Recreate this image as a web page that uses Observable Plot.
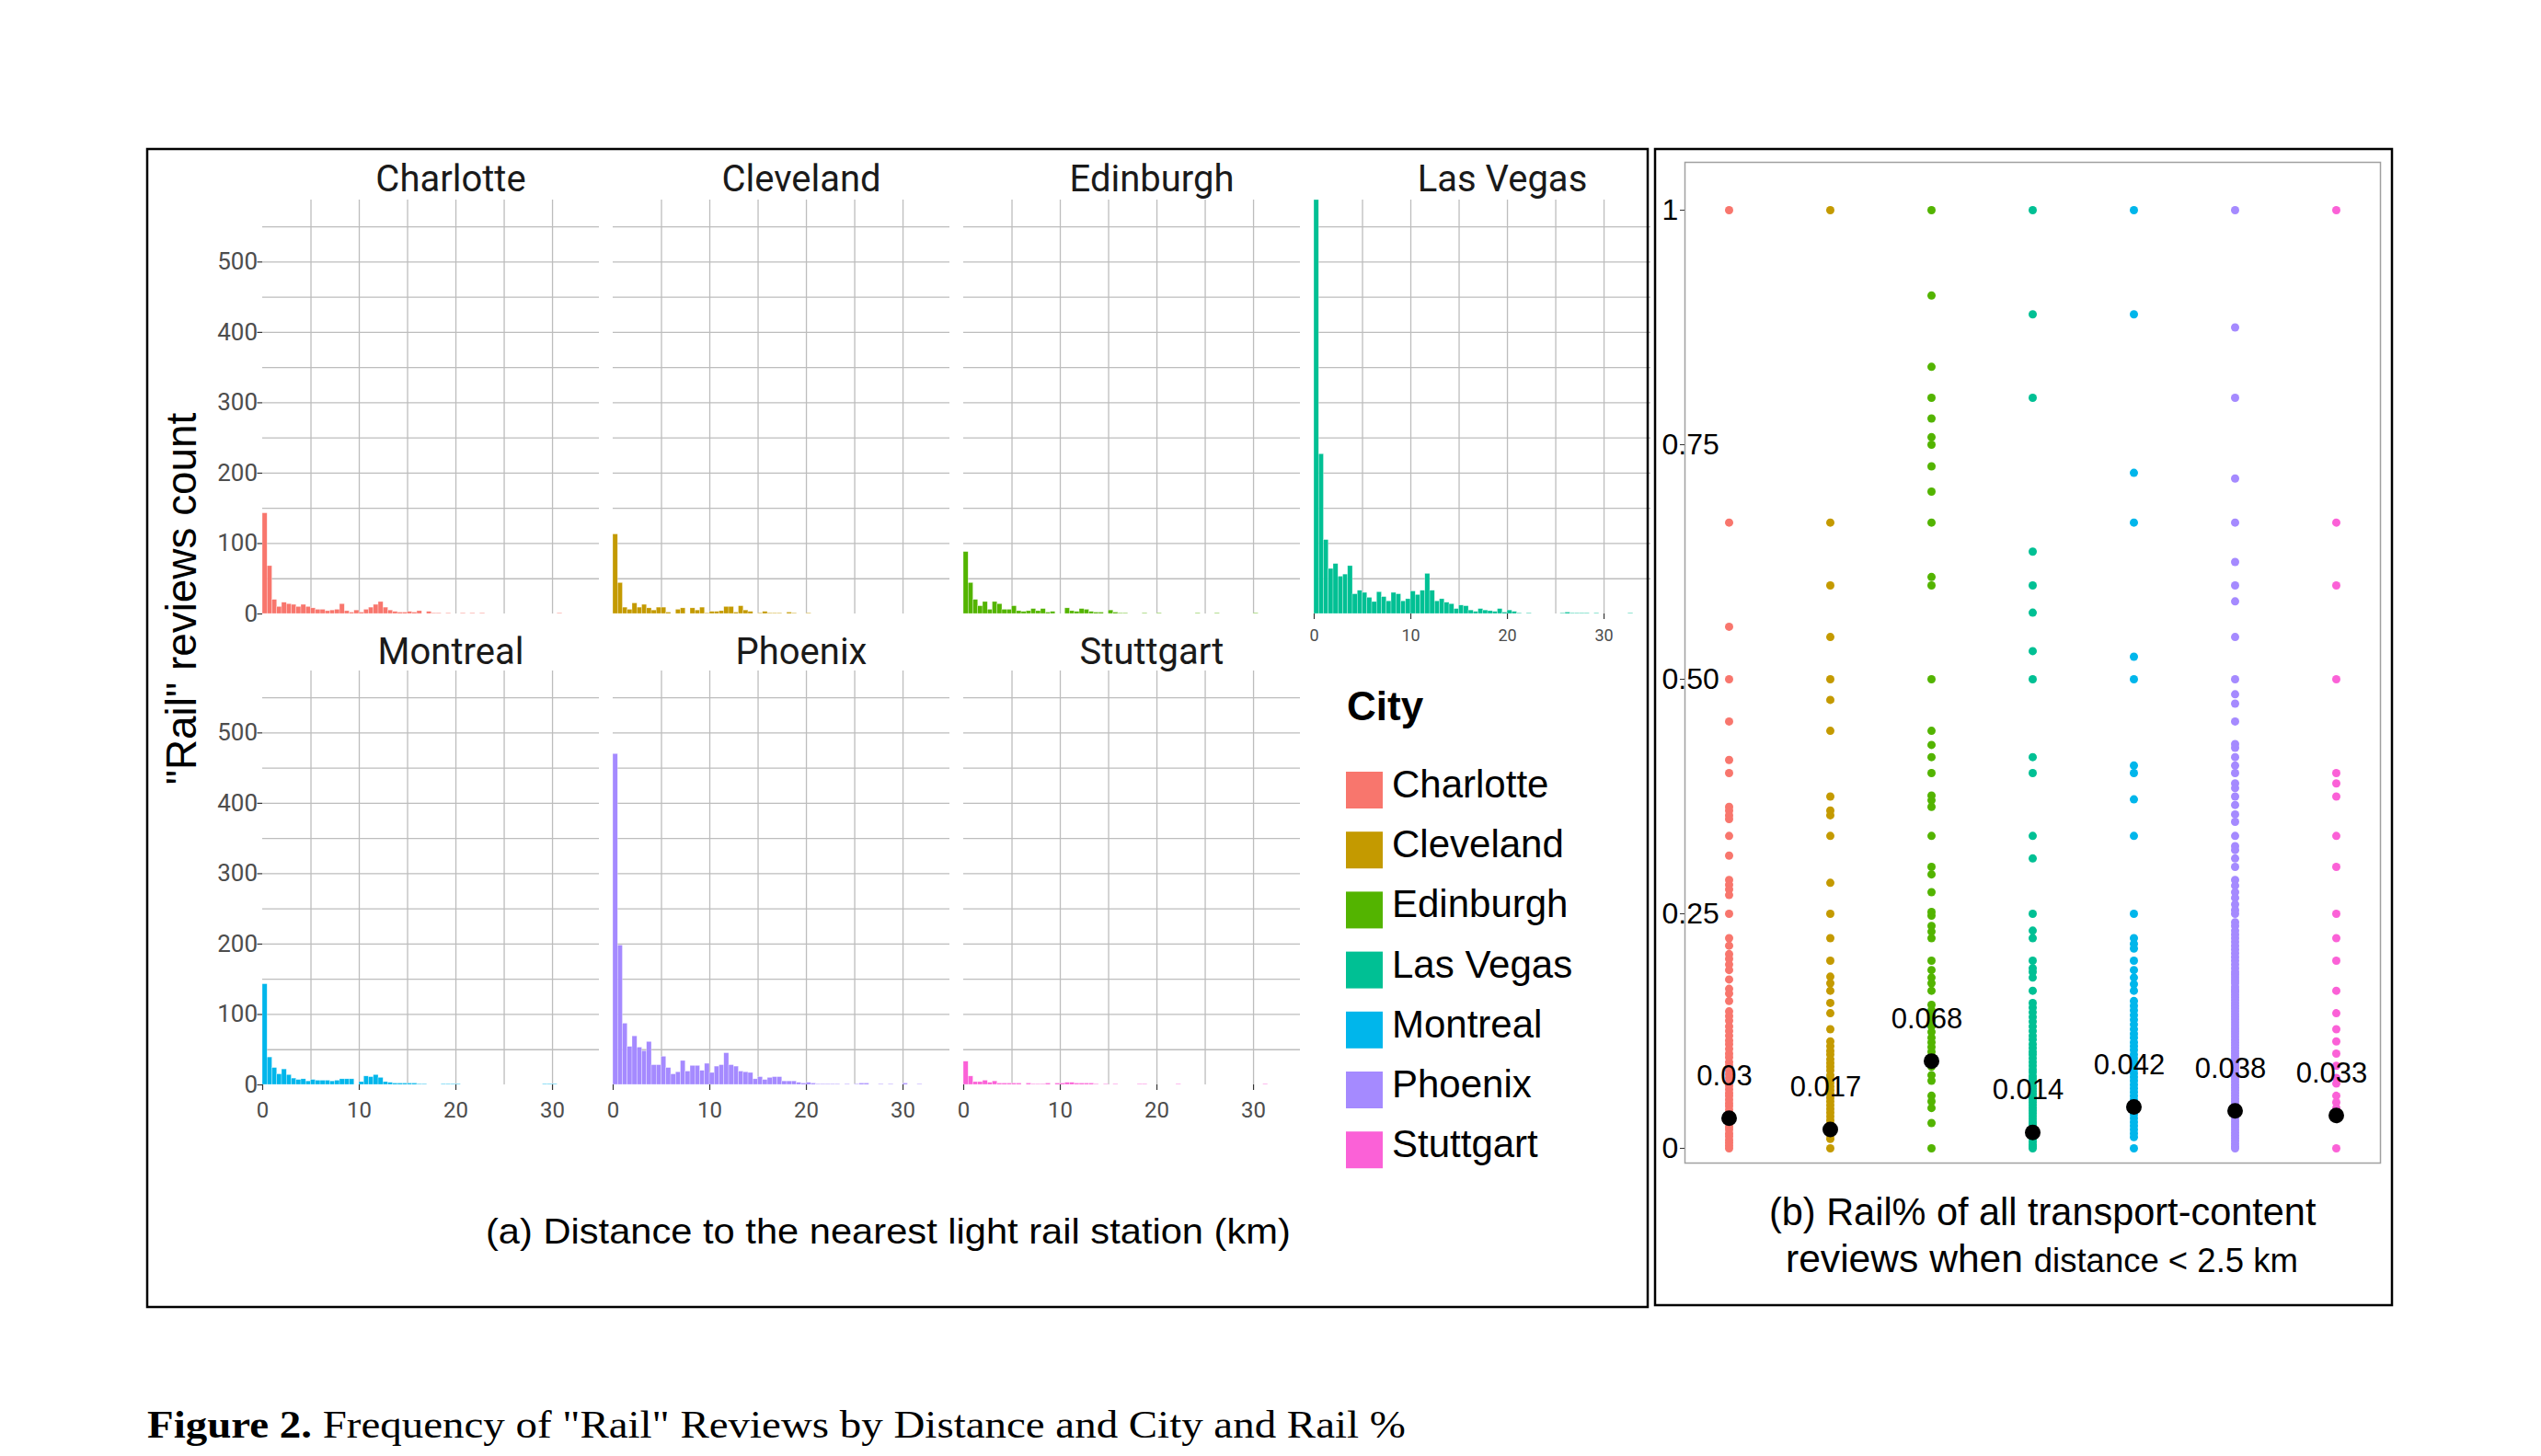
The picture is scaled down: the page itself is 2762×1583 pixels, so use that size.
<!DOCTYPE html>
<html><head><meta charset="utf-8">
<script src="https://cdn.jsdelivr.net/npm/d3@7"></script>
<script src="https://cdn.jsdelivr.net/npm/@observablehq/plot@0.6"></script>
<style>
html,body{margin:0;padding:0;background:#fff;}
#root{position:relative;width:2762px;height:1583px;overflow:hidden;background:#fff;}
</style></head><body><div id="root"></div>
<script>
// ---------------- data ----------------
const cities = ["Charlotte","Cleveland","Edinburgh","Las Vegas","Montreal","Phoenix","Stuttgart"];
const cityColors = ["#F8766D","#C49A00","#53B400","#00C094","#00B6EB","#A58AFF","#FB61D7"];
const binWidth = 0.5; // km
const xTicks = [0, 10, 20, 30];
const yTicks = [0, 100, 200, 300, 400, 500];

// "Rail" review counts per 0.5 km distance bin (bin i = [0.5i, 0.5i+0.5))
const countsCharlotte = [143,68,20,10,16,14,13,10,13,10,8,6,6,4,5,6,14,4,2,5,2,6,9,13,17,9,5,3,2,2,3,2,4,0,3,1,1,0,1,0,0,1,0,1,0,1,0,0,0,0,0,0,0,0,0,0,0,0,0,0,0,1];
const countsCleveland = [113,44,9,6,15,9,13,8,5,9,9,2,0,6,8,0,8,5,9,1,3,3,4,10,10,2,11,5,3,0,1,3,1,1,1,0,2,1,0,0,1];
const countsEdinburgh = [88,44,20,11,17,6,17,14,6,6,11,4,3,4,7,4,7,2,3,0,0,8,4,3,7,6,3,2,2,0,5,2,1,1,0,0,0,1,0,0,1,0,0,0,0,0,0,0,1,0,0,0,1,0,0,0,0,0,0,0,1];
const countsLasVegas = [588,227,105,64,71,53,56,68,28,33,30,23,17,31,24,18,30,28,18,21,32,27,33,57,33,18,21,16,14,7,12,11,5,3,7,5,4,3,7,2,5,3,1,0,1,0,0,0,0,0,0,1,2,1,1,1,1,0,1,0,0,0,0,0,0,1];
const countsMontreal = [143,39,24,15,22,14,9,7,8,5,7,6,6,6,5,6,8,8,8,0,4,12,11,14,10,4,3,2,2,2,2,2,1,1,0,0,0,1,1,1,1,0,0,0,0,0,0,0,0,0,0,0,0,0,0,0,0,0,1,1,1];
const countsPhoenix = [470,198,87,54,69,53,48,61,28,28,40,24,15,18,34,19,27,27,20,30,17,26,28,45,28,26,19,18,17,8,11,7,10,11,11,5,5,5,3,2,3,2,1,1,1,1,1,0,1,0,1,2,2,0,0,1,0,1,0,0,2,0,0,1];
const countsStuttgart = [33,12,4,4,6,3,5,2,2,2,2,2,0,2,1,1,1,2,0,2,2,3,3,2,2,2,2,1,0,1,0,1,0,0,0,0,1,1,0,0,0,0,0,0,1,0,0,0,0,0,0,0,0,0,0,0,0,0,0,0,0,0,1];

// Rail share of transport-content reviews (distance < 2.5 km), one value per dot
const railCharlotte = [1,0.667,0.556,0.5,0.455,0.414,0.4,0.364,0.36,0.355,0.351,0.333,0.312,0.286,0.281,0.276,0.27,0.25,0.224,0.216,0.207,0.202,0.196,0.19,0.18,0.17,0.165,0.157,0.146,0.141,0.136,0.13,0.125,0.12,0.115,0.111,0.106,0.101,0.097,0.092,0.088,0.083,0.079,0.075,0.071,0.067,0.063,0.059,0.056,0.052,0.048,0.045,0.041,0.037,0.034,0.03,0.027,0.023,0.02,0.016,0.013,0.009,0.006,0.003,0];
const railCleveland = [1,0.667,0.6,0.545,0.5,0.478,0.445,0.375,0.36,0.355,0.333,0.283,0.25,0.224,0.2,0.183,0.176,0.168,0.155,0.144,0.127,0.114,0.109,0.104,0.1,0.095,0.091,0.087,0.083,0.078,0.074,0.07,0.066,0.062,0.058,0.054,0.05,0.046,0.042,0.038,0.034,0.03,0.026,0.022,0.018,0.014,0.01,0];
const railEdinburgh = [1,0.909,0.833,0.8,0.778,0.758,0.75,0.727,0.7,0.667,0.609,0.6,0.5,0.445,0.43,0.417,0.4,0.376,0.371,0.364,0.333,0.3,0.292,0.273,0.252,0.248,0.237,0.231,0.224,0.2,0.19,0.182,0.176,0.168,0.153,0.147,0.141,0.136,0.13,0.124,0.118,0.113,0.108,0.103,0.098,0.093,0.087,0.078,0.072,0.056,0.05,0.043,0.027,0];
const railLasVegas = [1,0.889,0.8,0.636,0.6,0.571,0.53,0.5,0.417,0.4,0.333,0.309,0.25,0.232,0.224,0.2,0.192,0.188,0.182,0.168,0.155,0.15,0.145,0.14,0.135,0.13,0.125,0.12,0.116,0.111,0.107,0.103,0.1,0.096,0.092,0.088,0.084,0.081,0.077,0.074,0.071,0.067,0.064,0.061,0.058,0.055,0.052,0.049,0.046,0.043,0.04,0.037,0.034,0.031,0.028,0.025,0.022,0.019,0.016,0.013,0.01,0.007,0.004,0.002,0];
const railMontreal = [1,0.889,0.72,0.667,0.524,0.5,0.408,0.4,0.372,0.333,0.25,0.224,0.218,0.213,0.2,0.19,0.182,0.175,0.168,0.157,0.152,0.147,0.142,0.137,0.132,0.127,0.122,0.118,0.113,0.109,0.105,0.1,0.096,0.092,0.088,0.084,0.08,0.076,0.072,0.068,0.064,0.06,0.056,0.052,0.048,0.044,0.04,0.036,0.032,0.028,0.024,0.02,0.016,0.012,0];
const railPhoenix = [1,0.875,0.8,0.714,0.667,0.625,0.6,0.583,0.545,0.5,0.484,0.474,0.455,0.431,0.427,0.417,0.408,0.4,0.389,0.384,0.375,0.366,0.356,0.348,0.333,0.322,0.318,0.309,0.3,0.286,0.28,0.273,0.267,0.26,0.254,0.25,0.241,0.237,0.232,0.228,0.224,0.22,0.216,0.212,0.208,0.204,0.2,0.196,0.192,0.188,0.185,0.182,0.179,0.176,0.172,0.169,0.167,0.164,0.161,0.158,0.155,0.152,0.149,0.146,0.143,0.14,0.137,0.134,0.131,0.128,0.125,0.122,0.119,0.116,0.113,0.11,0.107,0.104,0.101,0.098,0.095,0.092,0.089,0.086,0.083,0.08,0.077,0.074,0.071,0.068,0.065,0.062,0.059,0.056,0.053,0.05,0.047,0.044,0.041,0.038,0.035,0.032,0.029,0.026,0.023,0.02,0.017,0.014,0.011,0.008,0.005,0.002,0];
const railStuttgart = [1,0.667,0.6,0.5,0.4,0.389,0.375,0.333,0.3,0.25,0.224,0.2,0.168,0.144,0.127,0.114,0.101,0.088,0.075,0.069,0.056,0.049,0.043,0];

// black summary dots and their labels
const meanDot = [0.032,0.02,0.093,0.017,0.044,0.04,0.035];
const meanLabel = ["0.03","0.017","0.068","0.014","0.042","0.038","0.033"];
const railTicks = [0, 0.25, 0.5, 0.75, 1];
const railTickLabels = ["0","0.25","0.50","0.75","1"];

// ---------------- layout ----------------
const root = document.getElementById("root");
const counts = [countsCharlotte,countsCleveland,countsEdinburgh,countsLasVegas,countsMontreal,countsPhoenix,countsStuttgart];
const rails = [railCharlotte,railCleveland,railEdinburgh,railLasVegas,railMontreal,railPhoenix,railStuttgart];
const colX = [285, 666, 1047, 1428];
const rowY = [217, 729];
const panelW = 366, panelH = 450;
const cells = [[0,0],[1,0],[2,0],[3,0],[0,1],[1,1],[2,1]];

function place(el, left, top) {
  el.style.position = "absolute";
  el.style.left = left + "px";
  el.style.top = top + "px";
  el.style.maxWidth = "none";
  el.style.background = "transparent";
  el.style.overflow = "visible";
  root.appendChild(el);
}

const ML = 70, MR = 4, MT = 2, MB = 42;
cities.forEach((city, k) => {
  const [c, r] = cells[k];
  const data = counts[k].map((v, i) => ({x1: i * binWidth, x2: (i + 1) * binWidth, y: v})).filter(d => d.y > 0);
  const showY = c === 0;
  const showX = r === 1 || c === 3;
  const small = r === 0;
  const marks = [
    Plot.gridX([5,10,15,20,25,30], {stroke: "#bdbdbd", strokeOpacity: 1, strokeWidth: 1.3}),
    Plot.gridY([50,100,150,200,250,300,350,400,450,500,550], {stroke: "#bdbdbd", strokeOpacity: 1, strokeWidth: 1.3}),
    Plot.rect(data, {x1: "x1", x2: "x2", y1: 0, y2: "y", fill: cityColors[k], stroke: "white", strokeWidth: 0.5, strokeOpacity: 0.6})
  ];
  if (showY) marks.push(Plot.axisY(yTicks, {anchor: "left", label: null, tickSize: 5.5, tickPadding: 0, fontSize: 26, fill: "#4d4d4d", stroke: "#333", strokeWidth: 1.2}));
  if (showX) marks.push(Plot.axisX(xTicks, {anchor: "bottom", label: null, tickSize: 6, tickPadding: small ? 10.5 : 12, fontSize: small ? 18 : 24, fill: "#4d4d4d", stroke: "#333", strokeWidth: 1.2}));
  const svg = Plot.plot({
    width: panelW + ML + MR, height: panelH + MT + MB,
    marginLeft: ML, marginRight: MR, marginTop: MT, marginBottom: MB,
    x: {domain: [0, 34.85], axis: null, label: null},
    y: {domain: [0, 588], axis: null, label: null},
    style: {fontFamily: "Roboto", background: "transparent", overflow: "visible"},
    marks
  });
  place(svg, colX[c] - ML, rowY[r] - MT);
});

// dot plot (b)
const dotData = [];
cities.forEach((city, k) => rails[k].forEach(v => dotData.push({city, v})));
const meanData = cities.map((city, k) => ({city, v: meanDot[k], label: meanLabel[k]}));
const DL = 30, DR = 6, DT = 5, DB = 5, DW = 756, DH = 1088;
const dotSvg = Plot.plot({
  width: DW + DL + DR, height: DH + DT + DB,
  marginLeft: DL, marginRight: DR, marginTop: DT, marginBottom: DB,
  x: {type: "point", domain: cities, padding: 0.426, axis: null, label: null},
  y: {domain: [-0.0157, 1.051], axis: null, label: null},
  color: {domain: cities, range: cityColors},
  style: {fontFamily: "Liberation Sans, Arial, sans-serif", background: "transparent", overflow: "visible"},
  marks: [
    Plot.frame({stroke: "#a0a0a0", strokeWidth: 1.5}),
    Plot.axisY(railTicks, {anchor: "left", label: null, tickSize: 5, tickFormat: () => "", stroke: "#333"}),
    Plot.axisY(railTicks, {anchor: "left", label: null, tickSize: 0, tickPadding: 25, textAnchor: "start", fontSize: 32, fill: "black", tickFormat: (d) => railTickLabels[railTicks.indexOf(d)]}),
    Plot.dot(dotData, {x: "city", y: "v", r: 4.5, fill: "city", stroke: "none"}),
    Plot.dot(meanData, {x: "city", y: "v", r: 8.5, fill: "black", stroke: "none"}),
    Plot.text(meanData, {x: "city", y: "v", text: "label", dy: -46, dx: -5, fontSize: 31, fill: "black"})
  ]
});
place(dotSvg, 1831 - DL, 176 - DT);

// ---------------- overlay: borders, strip labels, titles, legend, caption ----------------
const ov = d3.select(root).append("svg")
  .attr("width", 2762).attr("height", 1583)
  .style("position", "absolute").style("left", "0px").style("top", "0px")
  .style("pointer-events", "none");

ov.append("rect").attr("x", 160).attr("y", 162).attr("width", 1631).attr("height", 1259)
  .attr("fill", "none").attr("stroke", "black").attr("stroke-width", 2.5);
ov.append("rect").attr("x", 1799).attr("y", 162).attr("width", 801).attr("height", 1257)
  .attr("fill", "none").attr("stroke", "black").attr("stroke-width", 2.5);

// facet strip labels
cities.forEach((city, k) => {
  const [c, r] = cells[k];
  ov.append("text").attr("x", colX[c] + panelW / 2 + 22).attr("y", r === 0 ? 208 : 722)
    .attr("text-anchor", "middle").attr("font-family", "Roboto").attr("font-size", 40)
    .attr("fill", "#1a1a1a").text(city);
});

function fitText(g, target) {
  const t = g.select("text");
  const w = t.node().getBBox().width;
  if (w > 0) t.attr("transform", `scale(${target / w},1)`);
}

// y axis title
{
  const g = ov.append("g").attr("transform", "translate(213,651) rotate(-90)");
  g.append("text").attr("text-anchor", "middle").attr("font-family", "Liberation Sans, Arial, sans-serif")
    .attr("font-size", 46).attr("fill", "black").text('"Rail" reviews count');
  fitText(g, 405);
}
// (a) title
{
  const g = ov.append("g").attr("transform", "translate(528,1352)");
  g.append("text").attr("font-family", "Liberation Sans, Arial, sans-serif").attr("font-size", 38)
    .attr("fill", "black").text("(a) Distance to the nearest light rail station (km)");
  fitText(g, 875);
}
// (b) title
{
  const g = ov.append("g").attr("transform", "translate(1923,1332)");
  g.append("text").attr("font-family", "Liberation Sans, Arial, sans-serif").attr("font-size", 42)
    .attr("fill", "black").text("(b) Rail% of all transport-content");
  fitText(g, 595);
  const g2 = ov.append("g").attr("transform", "translate(1941,1383)");
  const t2 = g2.append("text").attr("font-family", "Liberation Sans, Arial, sans-serif").attr("fill", "black");
  t2.append("tspan").attr("font-size", 42).text("reviews when ");
  t2.append("tspan").attr("font-size", 36).text("distance < 2.5 km");
  fitText(g2, 557);
}
// legend
{
  ov.append("text").attr("x", 1464).attr("y", 783).attr("font-family", "Liberation Sans, Arial, sans-serif")
    .attr("font-weight", "bold").attr("font-size", 44).attr("fill", "black").text("City");
  cities.forEach((city, k) => {
    const top = 839 + k * 65.2;
    ov.append("rect").attr("x", 1463).attr("y", top).attr("width", 40).attr("height", 40).attr("fill", cityColors[k]);
    ov.append("text").attr("x", 1513).attr("y", top + 28).attr("font-family", "Liberation Sans, Arial, sans-serif")
      .attr("font-size", 42).attr("fill", "black").text(city);
  });
}
// caption
{
  const g = ov.append("g").attr("transform", "translate(160,1563)");
  const t = g.append("text").attr("font-family", "Liberation Serif, Times New Roman, serif").attr("font-size", 43).attr("fill", "black");
  t.append("tspan").attr("font-weight", "bold").text("Figure 2.");
  t.append("tspan").text(' Frequency of "Rail" Reviews by Distance and City and Rail %');
  fitText(g, 1368);
}
</script>
</body></html>
